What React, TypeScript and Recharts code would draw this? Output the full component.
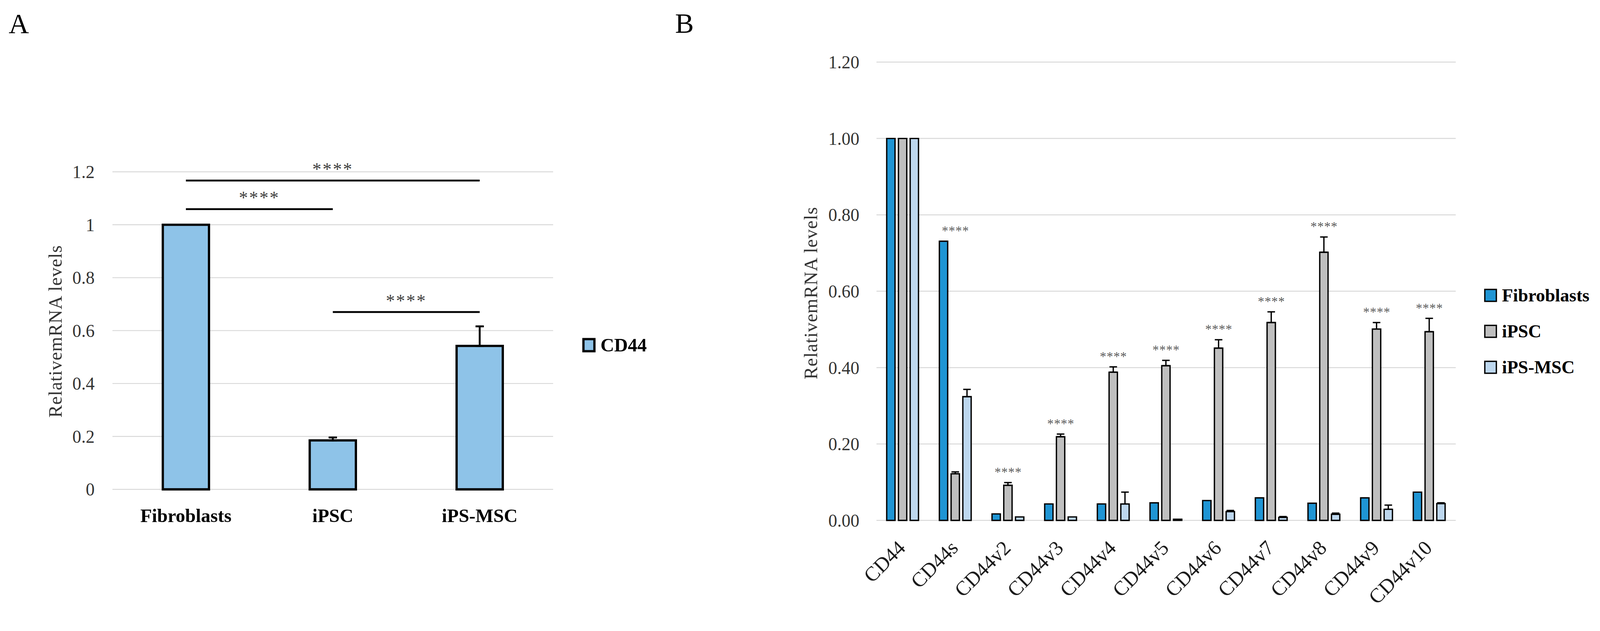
import {
  Bar,
  BarChart,
  CartesianGrid,
  ErrorBar,
  Legend,
  ReferenceDot,
  ReferenceLine,
  XAxis,
  YAxis,
} from "recharts";

const FONT = '"Liberation Serif", "Times New Roman", serif';
const PAGE_W = 4226;
const PAGE_H = 1616;

// Panel A: total CD44
const cellTypes = ["Fibroblasts", "iPSC", "iPS-MSC"];
const cd44Levels = [1, 0.185, 0.542];
const cd44Errors = [0, 0.011, 0.074];
const comparisonsA = [
  { from: "Fibroblasts", to: "iPS-MSC", y: 1.167 },
  { from: "Fibroblasts", to: "iPSC", y: 1.059 },
  { from: "iPSC", to: "iPS-MSC", y: 0.67 },
];
const yTicks = [0, 0.2, 0.4, 0.6, 0.8, 1, 1.2];

// Panel B: CD44 isoforms
const isoforms = [
  "CD44",
  "CD44s",
  "CD44v2",
  "CD44v3",
  "CD44v4",
  "CD44v5",
  "CD44v6",
  "CD44v7",
  "CD44v8",
  "CD44v9",
  "CD44v10",
];
const seriesB = ["Fibroblasts", "iPSC", "iPS-MSC"];
const fibroblasts = [1, 0.731, 0.017, 0.043, 0.043, 0.046, 0.052, 0.059, 0.045, 0.059, 0.074];
const ipsc = [1, 0.122, 0.092, 0.219, 0.388, 0.405, 0.451, 0.518, 0.702, 0.501, 0.494];
const ipscErr = [0, 0.005, 0.007, 0.007, 0.014, 0.014, 0.022, 0.028, 0.04, 0.017, 0.035];
const ipsMsc = [1, 0.324, 0.009, 0.009, 0.043, 0.003, 0.023, 0.008, 0.016, 0.029, 0.044];
const ipsMscErr = [0, 0.019, 0, 0, 0.031, 0, 0.003, 0.002, 0.003, 0.011, 0.002];
const significantB = isoforms.slice(1);

const upOnly = (e: number) => (e > 0 ? [0, e] : null);

const dataA = cellTypes.map((name, i) => ({
  name,
  cd44: cd44Levels[i],
  err: upOnly(cd44Errors[i]),
}));

const dataB = isoforms.map((name, i) => ({
  name,
  fib: fibroblasts[i],
  ipsc: ipsc[i],
  msc: ipsMsc[i],
  ipscErr: upOnly(ipscErr[i]),
  mscErr: upOnly(ipsMscErr[i]),
}));

const starsB = significantB.map((name) => {
  const i = isoforms.indexOf(name);
  const top = Math.max(fibroblasts[i], ipsc[i] + ipscErr[i], ipsMsc[i] + ipsMscErr[i]);
  return { name, y: top + 0.028 };
});

function AxisTitle({ viewBox, shiftX, shiftY }: any) {
  const cx = viewBox.x + shiftX;
  const cy = viewBox.y + viewBox.height / 2 + shiftY;
  return (
    <text
      x={cx}
      y={cy}
      transform={`rotate(-90, ${cx}, ${cy})`}
      textAnchor="middle"
      fontSize={50}
      letterSpacing={1}
      fontFamily={FONT}
      fill="#333"
    >
      RelativemRNA levels
    </text>
  );
}

// legend drawn as a small svg so the boxes and labels sit exactly
function SquareLegend({ payload, order, box, border, rowHeight, fontSize, width }: any) {
  const items = [...(payload ?? [])].sort(
    (a: any, b: any) => order.indexOf(a.value) - order.indexOf(b.value)
  );
  return (
    <svg
      width={width}
      height={rowHeight * items.length}
      style={{ display: "block", overflow: "visible" }}
    >
      {items.map((entry: any, i: number) => {
        const cy = rowHeight * i + rowHeight / 2;
        return (
          <g key={entry.value}>
            <rect
              x={border / 2}
              y={cy - box[1] / 2 + border / 2}
              width={box[0] - border}
              height={box[1] - border}
              fill={entry.color}
              stroke="#000"
              strokeWidth={border}
            />
            <text
              x={box[0] + 13}
              y={cy}
              dominantBaseline="central"
              fontSize={fontSize}
              fontWeight={700}
              fontFamily={FONT}
              fill="#000"
            >
              {entry.value}
            </text>
          </g>
        );
      })}
    </svg>
  );
}

function SlantedTick({ x, y, payload }: any) {
  const px = x + 10;
  const py = y + 76;
  return (
    <text
      x={px}
      y={py}
      transform={`rotate(-45, ${px}, ${py})`}
      textAnchor="end"
      fontSize={54}
      fontFamily={FONT}
      fill="#1a1a1a"
    >
      {payload.value}
    </text>
  );
}

function PanelA() {
  return (
    <BarChart
      width={1760}
      height={1616}
      data={dataA}
      margin={{ top: 454, right: 299, bottom: 223, left: 197 }}
      barCategoryGap={133}
    >
      <CartesianGrid vertical={false} stroke="#d9d9d9" strokeWidth={2.5} />
      <XAxis
        dataKey="name"
        height={100}
        axisLine={false}
        tickLine={false}
        tickSize={0}
        tickMargin={51}
        interval={0}
        tick={{ fontSize: 50, fontWeight: 700, fill: "#000", fontFamily: FONT }}
      />
      <YAxis
        domain={[0, 1.2]}
        ticks={yTicks}
        width={100}
        axisLine={false}
        tickLine={false}
        tickSize={0}
        tickMargin={47}
        tickFormatter={(v) => String(v)}
        tick={{ fontSize: 47, fill: "#333", fontFamily: FONT }}
        label={<AxisTitle shiftX={-34} shiftY={2} />}
      />
      <Legend
        layout="vertical"
        align="center"
        verticalAlign="middle"
        wrapperStyle={{ left: 1538, top: 872, width: 200 }}
        content={
          <SquareLegend
            order={["CD44"]}
            box={[35, 38]}
            border={6}
            rowHeight={80}
            fontSize={50}
            width={200}
          />
        }
      />
      <Bar
        dataKey="cd44"
        name="CD44"
        fill="#8ec3e8"
        stroke="#000"
        strokeWidth={6}
        isAnimationActive={false}
      >
        <ErrorBar dataKey="err" direction="y" width={11} stroke="#000" strokeWidth={5} />
      </Bar>
      {comparisonsA.map((c) => (
        <ReferenceLine
          key={c.from + c.to}
          segment={[
            { x: c.from, y: c.y },
            { x: c.to, y: c.y },
          ]}
          stroke="#000"
          strokeWidth={5}
          label={{
            value: "****",
            position: "top",
            offset: 14,
            fontSize: 48,
            letterSpacing: 3,
            fill: "#404040",
            fontFamily: FONT,
          }}
        />
      ))}
    </BarChart>
  );
}

function PanelB() {
  return (
    <BarChart
      width={2466}
      height={1616}
      data={dataB}
      margin={{ top: 164, right: 381, bottom: 81, left: 455 }}
      barCategoryGap={27}
      barGap={9}
    >
      <CartesianGrid vertical={false} stroke="#d9d9d9" strokeWidth={2.5} />
      <XAxis
        dataKey="name"
        height={160}
        axisLine={false}
        tickLine={false}
        tickSize={0}
        tickMargin={0}
        interval={0}
        tick={<SlantedTick />}
      />
      <YAxis
        domain={[0, 1.2]}
        ticks={yTicks}
        width={100}
        axisLine={false}
        tickLine={false}
        tickSize={0}
        tickMargin={45}
        tickFormatter={(v) => Number(v).toFixed(2)}
        tick={{ fontSize: 47, fill: "#333", fontFamily: FONT }}
        label={<AxisTitle shiftX={-57} shiftY={5} />}
      />
      <Legend
        layout="vertical"
        align="center"
        verticalAlign="middle"
        wrapperStyle={{ left: 2160, top: 733, width: 290 }}
        content={
          <SquareLegend
            order={seriesB}
            box={[34, 35]}
            border={3.5}
            rowHeight={95}
            fontSize={48}
            width={290}
          />
        }
      />
      <Bar
        dataKey="fib"
        name={seriesB[0]}
        fill="#1f95d4"
        stroke="#000"
        strokeWidth={3.5}
        isAnimationActive={false}
      />
      <Bar
        dataKey="ipsc"
        name={seriesB[1]}
        fill="#bfbfbf"
        stroke="#000"
        strokeWidth={3.5}
        isAnimationActive={false}
      >
        <ErrorBar dataKey="ipscErr" direction="y" width={10} stroke="#000" strokeWidth={3.5} />
      </Bar>
      <Bar
        dataKey="msc"
        name={seriesB[2]}
        fill="#bdd7ee"
        stroke="#000"
        strokeWidth={3.5}
        isAnimationActive={false}
      >
        <ErrorBar dataKey="mscErr" direction="y" width={10} stroke="#000" strokeWidth={3.5} />
      </Bar>
      {starsB.map((s) => (
        <ReferenceDot
          key={s.name}
          x={s.name}
          y={s.y}
          r={0}
          fill="none"
          stroke="none"
          label={{
            value: "****",
            position: "center",
            fontSize: 34,
            letterSpacing: 1,
            fill: "#595959",
            fontFamily: FONT,
          }}
        />
      ))}
    </BarChart>
  );
}

export default function App() {
  // the viewport can be a little narrower than the photo, so fit the page to it
  const vw = typeof window !== "undefined" ? window.innerWidth : PAGE_W;
  const k = vw > 0 ? vw / PAGE_W : 1;
  return (
    <div
      style={{
        position: "absolute",
        left: 0,
        top: 0,
        width: PAGE_W,
        height: PAGE_H,
        background: "#fff",
        fontFamily: FONT,
        overflow: "hidden",
        transform: `scale(${k})`,
        transformOrigin: "0 0",
      }}
    >
      <svg
        width={PAGE_W}
        height={PAGE_H}
        style={{ position: "absolute", left: 0, top: 0 }}
      >
        <text x={23} y={88} fontSize={74} fontFamily={FONT} fill="#000">
          A
        </text>
        <text x={1783} y={87} fontSize={74} fontFamily={FONT} fill="#000">
          B
        </text>
      </svg>
      <div style={{ position: "absolute", left: 0, top: 0 }}>
        <PanelA />
      </div>
      <div style={{ position: "absolute", left: 1760, top: 0 }}>
        <PanelB />
      </div>
    </div>
  );
}
